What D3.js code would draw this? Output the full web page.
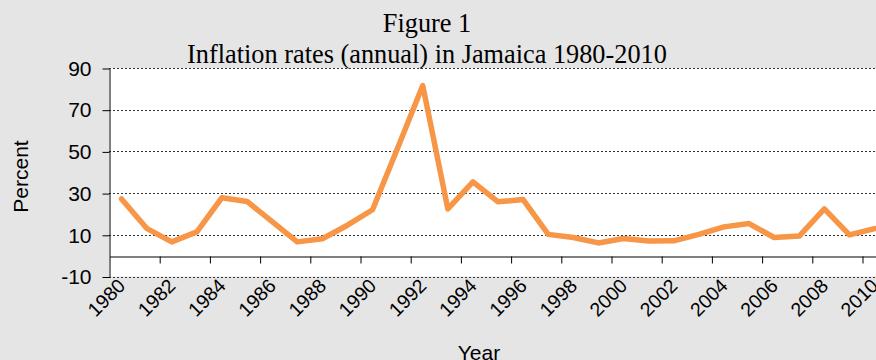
<!DOCTYPE html>
<html>
<head>
<meta charset="utf-8">
<script src="https://cdn.jsdelivr.net/npm/d3@7"></script>
<style>
  html, body { margin: 0; padding: 0; background: #e5e5e5; }
  svg { display: block; }
</style>
</head>
<body>
<svg id="chart" width="876" height="360"></svg>
<script>
// Annual inflation, Jamaica 1980-2010 (percent)
const years = d3.range(1980, 2011);
const inflation = [27.2, 13.1, 6.6, 11.4, 27.8, 26.0, 16.3, 6.6, 8.1, 14.6,
                   22.0, 51.6, 81.6, 22.4, 35.4, 25.8, 26.9, 10.2, 8.7, 6.1,
                   8.2, 7.0, 7.1, 10.2, 13.8, 15.4, 8.7, 9.4, 22.4, 10.0, 13.0];
const yTicks = [-10, 10, 30, 50, 70, 90];
const yearLabels = years.filter(y => y % 2 === 0);
const titleLines = ["Figure 1", "Inflation rates (annual) in Jamaica 1980-2010"];

const svg = d3.select("#chart");
const W = 876, H = 360;

const plot = { left: 109, top: 68, bottom: 276.5, band: 25.1 };

const x = d3.scaleBand()
  .domain(years)
  .range([plot.left, plot.left + years.length * plot.band])
  .padding(0);
// continuous scale over category boundaries, for tick marks between categories
const xEdge = d3.scaleLinear()
  .domain([1980, 1980 + years.length])
  .range([plot.left, plot.left + years.length * plot.band]);
const y = d3.scaleLinear().domain([-10, 90]).range([plot.bottom, plot.top]);

// plot area
svg.append("rect")
  .attr("x", plot.left).attr("y", plot.top)
  .attr("width", W - plot.left).attr("height", plot.bottom - plot.top)
  .attr("fill", "#ffffff");

// dotted gridlines
svg.append("g")
  .selectAll("line")
  .data(yTicks)
  .join("line")
  .attr("x1", plot.left).attr("x2", W)
  .attr("y1", d => Math.round(y(d)) + 0.5)
  .attr("y2", d => Math.round(y(d)) + 0.5)
  .attr("stroke", "#333")
  .attr("stroke-width", 1)
  .attr("stroke-dasharray", "2,2");

// y axis
const yAxis = svg.append("g")
  .attr("transform", `translate(${plot.left + 0.5},0.5)`)
  .call(d3.axisLeft(y).tickValues(yTicks).tickSize(7).tickSizeOuter(0).tickPadding(11)
    .tickFormat(d => String(d)));
yAxis.select(".domain").attr("stroke", "#000");
yAxis.selectAll(".tick line").attr("stroke", "#000");
yAxis.selectAll(".tick text")
  .attr("font-family", "Liberation Sans, Arial, sans-serif")
  .attr("font-size", 21)
  .attr("fill", "#000");

// x axis at zero, tick marks between every second category
const xAxis = svg.append("g")
  .attr("transform", `translate(0.5,${Math.round(y(0)) + 0.5})`)
  .call(d3.axisBottom(xEdge).tickValues(d3.range(1982, 2011, 2)).tickSize(7).tickSizeOuter(0).tickFormat(""));
xAxis.select(".domain").attr("stroke", "#000");
xAxis.selectAll(".tick line").attr("stroke", "#000");

// rotated year labels
svg.append("g")
  .selectAll("text")
  .data(yearLabels)
  .join("text")
  .attr("transform", d => `translate(${x(d) + x.bandwidth() / 2 + 5},${287}) rotate(-45)`)
  .attr("text-anchor", "end")
  .attr("font-family", "Liberation Sans, Arial, sans-serif")
  .attr("font-size", 19.5)
  .attr("fill", "#000")
  .text(d => d);

// inflation line
const line = d3.line()
  .x((d, i) => x(years[i]) + x.bandwidth() / 2)
  .y(d => y(d));
svg.append("path")
  .datum(inflation)
  .attr("d", line)
  .attr("fill", "none")
  .attr("stroke", "#f79646")
  .attr("stroke-width", 5.5)
  .attr("stroke-linejoin", "round")
  .attr("stroke-linecap", "round");

// title
svg.append("g")
  .selectAll("text")
  .data(titleLines)
  .join("text")
  .attr("x", 427)
  .attr("y", (d, i) => 32 + i * 31)
  .attr("text-anchor", "middle")
  .attr("font-family", "Liberation Serif, Times New Roman, serif")
  .attr("font-size", 26.3)
  .attr("fill", "#000")
  .text(d => d);

// axis titles
svg.append("text")
  .attr("transform", "translate(28,176.5) rotate(-90)")
  .attr("text-anchor", "middle")
  .attr("font-family", "Liberation Sans, Arial, sans-serif")
  .attr("font-size", 21)
  .attr("fill", "#000")
  .text("Percent");

svg.append("text")
  .attr("x", 479).attr("y", 360)
  .attr("text-anchor", "middle")
  .attr("font-family", "Liberation Sans, Arial, sans-serif")
  .attr("font-size", 21)
  .attr("fill", "#000")
  .text("Year");
</script>
</body>
</html>
